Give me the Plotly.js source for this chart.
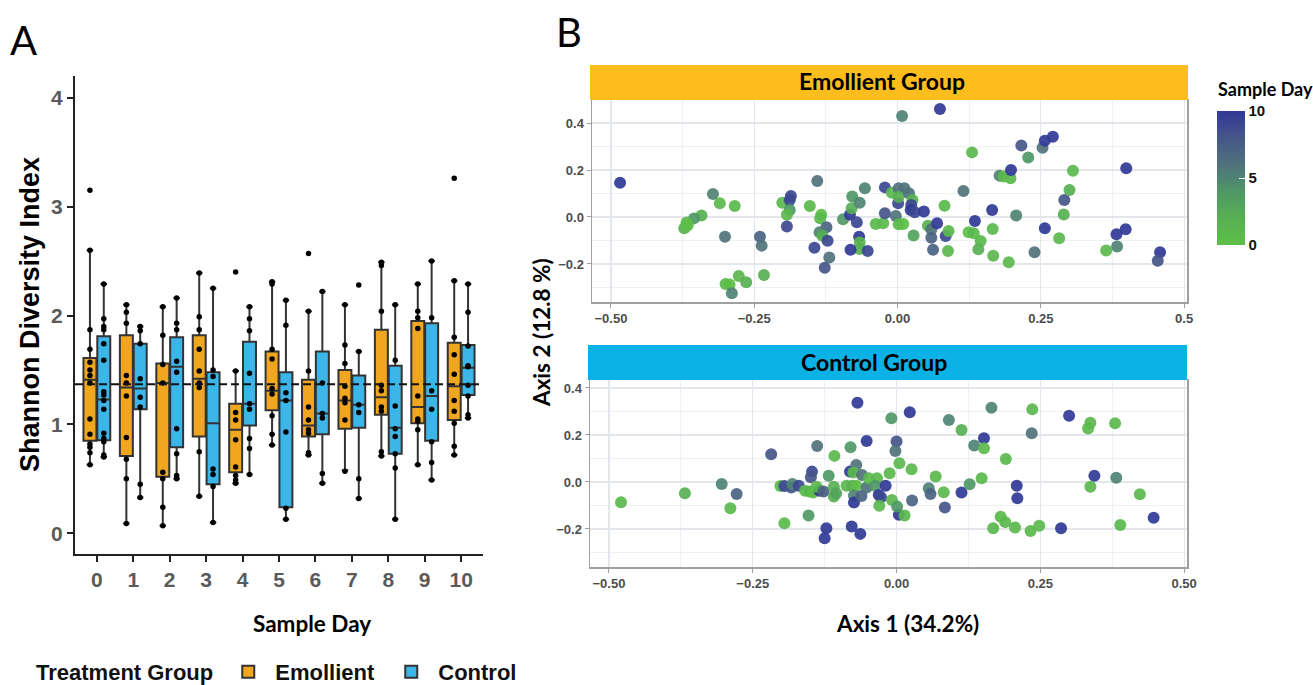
<!DOCTYPE html>
<html><head><meta charset="utf-8">
<script src="https://cdn.plot.ly/plotly-3.0.1.min.js"></script>
<style>html,body{margin:0;padding:0;background:#fff}</style>
</head><body>
<div id="chart" style="width:1313px;height:685px"></div>
<script>
// ---------- Panel A data ----------
const days = [0,1,2,3,4,5,6,7,8,9,10];
const overallMedian = 1.37;
// Emollient box statistics
const q1E  = [0.85,0.71,0.52,0.89,0.56,1.13,0.89,0.96,1.09,1.01,1.04];
const medE = [1.41,1.34,1.38,1.42,0.95,1.31,0.99,1.22,1.25,1.16,1.35];
const q3E  = [1.61,1.82,1.56,1.82,1.19,1.67,1.41,1.50,1.87,1.95,1.75];
const loE  = [0.63,0.09,0.07,0.34,0.46,0.81,0.72,0.58,0.71,0.63,0.72];
const hiE  = [2.60,2.10,2.08,2.39,1.49,2.31,2.04,2.10,2.49,2.29,2.32];
// Control box statistics
const q1C  = [0.855,1.14,0.79,0.45,0.99,0.24,0.91,0.97,0.73,0.85,1.27];
const medC = [1.23,1.33,1.53,1.01,1.19,1.22,1.10,1.18,0.97,1.26,1.52];
const q3C  = [1.81,1.74,1.80,1.48,1.76,1.48,1.67,1.45,1.54,1.93,1.73];
const loC  = [0.70,0.33,0.50,0.10,0.54,0.13,0.46,0.32,0.13,0.49,1.06];
const hiC  = [2.29,1.90,2.16,2.25,2.08,2.14,2.22,1.67,2.10,2.50,2.29];
// individual samples per day
const ptsE = [
  [3.15,2.60,1.87,1.69,1.57,1.50,1.45,1.38,1.05,0.91,0.82,0.79,0.74,0.63],
  [2.10,2.03,1.93,1.45,1.38,1.26,0.88,0.68,0.50,0.09],
  [2.08,1.82,1.55,1.38,0.56,0.50,0.24,0.07],
  [2.39,1.99,1.87,1.69,1.49,1.38,1.34,0.75,0.34],
  [2.40,1.49,1.11,1.04,0.86,0.61,0.53,0.49,0.46],
  [2.31,2.29,1.69,1.60,1.33,1.28,1.08,0.91,0.81],
  [2.57,2.04,1.49,1.16,1.04,0.95,0.92,0.74,0.72],
  [2.10,1.73,1.56,1.35,1.24,1.20,1.04,0.57],
  [2.49,2.46,2.04,1.36,1.31,1.16,1.12,0.75,0.71],
  [2.29,2.04,1.98,1.88,1.26,1.05,1.03,0.95,0.63],
  [3.26,2.32,1.80,1.64,1.46,1.22,1.12,1.01,0.80,0.72]
];
const ptsC = [
  [2.29,1.97,1.90,1.87,1.74,1.59,1.30,1.27,1.22,1.14,0.92,0.87,0.84,0.72,0.70],
  [1.90,1.86,1.74,1.42,1.25,1.16,0.45,0.33],
  [2.16,1.93,1.87,1.58,1.48,0.96,0.73,0.53,0.50],
  [2.25,1.50,1.44,0.59,0.54,0.43,0.10],
  [2.08,1.97,1.86,1.47,1.19,1.14,0.87,0.78,0.54],
  [2.14,1.91,1.29,1.22,0.93,0.23,0.13],
  [2.22,1.38,1.10,1.06,0.55,0.46],
  [2.28,1.67,1.18,1.11,0.50,0.32],
  [2.10,1.59,1.17,0.96,0.89,0.73,0.60,0.13],
  [2.50,1.98,1.31,1.14,0.84,0.65,0.49],
  [2.29,2.03,1.72,1.54,1.53,1.36,1.26,1.09,1.06]
];

// ---------- Panel B data (PCoA) ----------
const emX = [-0.484,-0.322,-0.310,-0.284,-0.342,-0.355,-0.368,-0.372,-0.366,-0.301,-0.300,-0.293,-0.289,-0.277,-0.264,-0.233,-0.240,-0.237,-0.201,-0.186,-0.188,-0.188,-0.193,-0.193,-0.153,-0.133,-0.135,-0.140,-0.124,-0.136,-0.131,-0.122,-0.145,-0.119,-0.127,-0.095,-0.083,-0.079,-0.080,-0.066,-0.057,-0.071,-0.067,-0.066,-0.066,-0.082,-0.052,-0.038,-0.025,-0.022,-0.022,-0.010,-0.003,0.002,0.001,0.002,0.008,0.074,0.012,0.002,0.020,0.026,0.024,0.023,0.030,0.046,0.010,0.028,0.053,0.059,0.069,0.059,0.062,0.084,0.089,0.088,0.082,0.115,0.130,0.124,0.133,0.145,0.141,0.135,0.165,0.166,0.167,0.178,0.185,0.197,0.198,0.194,0.207,0.216,0.228,0.239,0.253,0.257,0.271,0.257,0.282,0.290,0.291,0.300,0.306,0.364,0.382,0.383,0.398,0.399,0.458,0.454];
const emY = [0.146,0.098,0.058,0.047,0.006,-0.006,-0.024,-0.048,-0.035,-0.084,-0.285,-0.287,-0.325,-0.251,-0.278,-0.247,-0.084,-0.122,0.061,0.089,0.072,0.030,0.009,-0.041,0.047,0.009,-0.006,0.153,-0.044,-0.065,-0.080,-0.101,-0.131,-0.173,-0.216,-0.010,0.009,0.087,0.037,0.061,0.122,-0.023,-0.084,-0.109,-0.136,-0.140,-0.145,-0.030,-0.027,0.016,0.126,0.103,0.004,0.122,0.058,-0.031,0.430,0.460,0.122,0.085,0.101,0.072,0.051,0.030,0.020,0.023,-0.030,-0.079,-0.037,-0.052,-0.027,-0.088,-0.140,-0.081,-0.060,-0.145,0.048,0.111,0.275,-0.065,-0.069,-0.102,-0.137,-0.017,0.030,-0.051,-0.165,0.176,0.172,0.165,0.200,-0.193,0.006,0.304,0.253,-0.150,0.295,0.325,0.342,-0.048,-0.091,0.011,0.072,0.115,0.197,-0.143,-0.074,-0.126,-0.052,0.207,-0.150,-0.186];
const emDay = [10,5,1,1,2,4,1,2,0,6,1,0,5,1,2,2,7,6,1,9,9,4,1,9,1,0,1,6,7,5,2,9,9,6,8,4,10,4,2,5,5,9,10,1,2,10,9,1,1,8,9,1,6,6,9,1,5,10,6,2,6,2,9,10,9,10,0,3,2,6,10,7,7,9,1,1,1,6,1,0,1,1,2,10,10,1,1,5,1,1,10,1,5,8,4,6,6,10,10,10,1,2,8,2,1,1,10,5,10,10,10,8];

const ctX = [-0.479,-0.368,-0.304,-0.278,-0.289,-0.218,-0.195,-0.202,-0.195,-0.183,-0.181,-0.170,-0.159,-0.151,-0.145,-0.153,-0.147,-0.149,-0.138,-0.134,-0.139,-0.127,-0.118,-0.108,-0.109,-0.109,-0.105,-0.122,-0.125,-0.080,-0.068,-0.052,-0.081,-0.070,-0.075,-0.060,-0.087,-0.077,-0.070,-0.074,-0.074,-0.061,-0.052,-0.048,-0.034,-0.037,-0.019,-0.031,-0.027,-0.030,-0.078,-0.063,-0.009,-0.012,-0.008,0.000,-0.002,0.005,0.004,0.001,0.023,0.026,0.014,0.027,0.056,0.059,0.068,0.084,0.082,0.091,0.113,0.113,0.127,0.135,0.148,0.152,0.152,0.165,0.168,0.181,0.189,0.190,0.206,0.209,0.210,0.235,0.236,0.233,0.248,0.286,0.300,0.333,0.337,0.380,0.344,0.337,0.382,0.423,0.389,0.447];
const ctY = [-0.086,-0.048,-0.009,-0.051,-0.112,0.118,-0.176,-0.017,-0.017,-0.024,-0.009,-0.016,-0.037,-0.041,-0.045,-0.143,0.044,0.020,0.153,-0.037,-0.020,-0.041,0.026,0.111,-0.020,-0.062,-0.048,-0.197,-0.240,0.148,0.337,0.174,0.044,0.072,0.040,0.030,-0.016,-0.016,-0.016,-0.058,-0.087,-0.060,-0.024,0.016,0.016,-0.016,-0.016,-0.055,-0.065,-0.101,-0.190,-0.221,0.271,0.037,-0.077,0.172,0.132,0.080,-0.140,-0.105,0.297,0.054,-0.143,-0.079,-0.027,-0.051,0.023,-0.109,-0.044,0.264,0.221,-0.045,-0.010,0.155,0.016,0.186,0.143,0.316,-0.197,-0.148,-0.171,0.098,-0.194,-0.016,-0.069,0.207,0.309,-0.209,-0.186,-0.197,0.282,0.228,0.252,0.250,0.026,-0.020,0.018,-0.052,-0.183,-0.152];
const ctDay = [1,2,5,7,1,8,1,1,9,8,5,9,1,2,0,4,9,8,6,10,1,7,4,1,2,2,3,10,10,4,10,10,10,6,1,6,1,2,0,5,10,7,6,1,1,4,10,10,9,1,10,10,4,1,1,8,6,1,10,4,10,1,1,7,5,7,1,8,1,5,2,10,4,5,1,10,1,5,1,1,1,1,1,10,10,6,1,1,1,10,10,1,1,1,10,1,5,1,1,10];

const xTicksB = [-0.50,-0.25,0.00,0.25,0.50];
const xTextTop = ['\u22120.50','\u22120.25','0.00','0.25','0.5'];
const xTextBottom = ['\u22120.50','\u22120.25','0.00','0.25','0.50'];
const yTicksB = [-0.2,0.0,0.2,0.4];
const cbTicks = [0,5,10];

// ---------- styling ----------
const W = 1313, H = 685;
const px = v => v / W, py = v => 1 - v / H;
const BOXGAP = 0.24, BOXGROUPGAP = 0.063;
const off = 0.25 * (1 - BOXGAP);
const ORANGE = '#f0a61e', BLUE = '#3cb6e8';
const ARIAL = 'Liberation Sans, Arial, sans-serif';
const CAL = 'Lato, Open Sans, sans-serif';

function flat(pts, sign) {
  const x = [], y = [];
  pts.forEach((arr, i) => arr.forEach(v => { x.push(days[i] + sign * off); y.push(v); }));
  return {x, y};
}
const fE = flat(ptsE, -1), fC = flat(ptsC, 1);

const boxLine = {color: '#333333', width: 2};
const traces = [
  {type:'box', orientation:'v', name:'Emollient', x: days, q1:q1E, median:medE, q3:q3E,
   lowerfence:loE, upperfence:hiE, fillcolor:ORANGE, line:boxLine, boxpoints:false,
   xaxis:'x', yaxis:'y', hoverinfo:'skip'},
  {type:'box', orientation:'v', name:'Control', x: days, q1:q1C, median:medC, q3:q3C,
   lowerfence:loC, upperfence:hiC, fillcolor:BLUE, line:boxLine, boxpoints:false,
   xaxis:'x', yaxis:'y', hoverinfo:'skip'},
  {type:'scatter', mode:'markers', x:fE.x, y:fE.y, xaxis:'x', yaxis:'y', showlegend:false,
   marker:{color:'#000', size:5.5}, hoverinfo:'y'},
  {type:'scatter', mode:'markers', x:fC.x, y:fC.y, xaxis:'x', yaxis:'y', showlegend:false,
   marker:{color:'#000', size:5.5}, hoverinfo:'y'},
  {type:'scatter', mode:'markers', x:emX, y:emY, xaxis:'x2', yaxis:'y2', showlegend:false,
   marker:{color:emDay, coloraxis:'coloraxis', size:12, opacity:0.92}},
  {type:'scatter', mode:'markers', x:ctX, y:ctY, xaxis:'x3', yaxis:'y3', showlegend:false,
   marker:{color:ctDay, coloraxis:'coloraxis', size:12, opacity:0.92}}
];

const tickA = {family: ARIAL, size: 21, color: '#5a5a5a', weight: 700};
const tickB = {family: ARIAL, size: 13, color: '#4d4d4d', weight: 700};
function facetX(domain, anchor, ticktext) {
  return {domain, anchor, range:[-0.533, 0.505], tickvals:xTicksB, ticktext,
    showgrid:true, gridcolor:'#e3e7ec', gridwidth:1.2,
    minor:{dtick:0.125, tick0:0, showgrid:true, gridcolor:'#eef1f4', gridwidth:1, ticks:''},
    showline:true, mirror:true, linecolor:'#a0a0a0', linewidth:1.5,
    ticks:'outside', ticklen:4, tickcolor:'#a0a0a0', tickfont:tickB, zeroline:false};
}
function facetY(domain, anchor, range) {
  return {domain, anchor, range, tickvals:yTicksB, tickformat:'.1f',
    showgrid:true, gridcolor:'#e3e7ec', gridwidth:1.2,
    minor:{dtick:0.1, tick0:0, showgrid:true, gridcolor:'#eef1f4', gridwidth:1, ticks:''},
    showline:true, mirror:true, linecolor:'#a0a0a0', linewidth:1.5,
    ticks:'outside', ticklen:4, tickcolor:'#a0a0a0', tickfont:tickB, zeroline:false};
}

const ann = (x, y, text, font, extra) => Object.assign({xref:'paper', yref:'paper', x:px(x), y:py(y),
  text, showarrow:false, font, xanchor:'center', yanchor:'middle'}, extra || {});

const layout = {
  width: W, height: H, margin:{l:0, r:0, t:0, b:0, autoexpand:false},
  paper_bgcolor:'#ffffff', plot_bgcolor:'#ffffff',
  boxmode:'group', boxgap:BOXGAP, boxgroupgap:BOXGROUPGAP,
  xaxis:{domain:[px(75), px(483)], anchor:'y', range:[-0.6, 10.6], tickvals:days,
    showgrid:false, zeroline:false, showline:true, linecolor:'#222', linewidth:2,
    ticks:'outside', ticklen:6, tickwidth:2, tickcolor:'#222', tickfont:tickA},
  yaxis:{domain:[1 - 554/H, 1 - 76/H], anchor:'x', range:[-0.19, 4.2], dtick:1,
    showgrid:false, zeroline:false, showline:true, linecolor:'#222', linewidth:2,
    ticks:'outside', ticklen:6, tickwidth:2, tickcolor:'#222', tickfont:tickA},
  xaxis2: facetX([px(592), px(1187)], 'y2', xTextTop),
  yaxis2: facetY([1 - 302/H, 1 - 100/H], 'x2', [-0.362, 0.498]),
  xaxis3: facetX([px(590), px(1187)], 'y3', xTextBottom),
  yaxis3: facetY([1 - 567/H, 1 - 380/H], 'x3', [-0.362, 0.434]),
  coloraxis:{cmin:0, cmax:10,
    colorscale:[[0,'#5cbf47'],[0.2,'#57b052'],[0.4,'#4f9866'],[0.5,'#4e8373'],[0.6,'#50727b'],[0.8,'#465689'],[1,'#303996']],
    colorbar:{x:px(1217), xanchor:'left', y:py(111), yanchor:'top', len:134, lenmode:'pixels',
      thickness:28, thicknessmode:'pixels', outlinewidth:0, xpad:0, ypad:0,
      tickvals:cbTicks, ticks:'inside', ticklen:6, tickcolor:'#ffffff', tickwidth:1,
      tickfont:{family:ARIAL, size:15, color:'#111', weight:700}}},
  showlegend:true,
  legend:{orientation:'h', x:px(34), y:py(672), xanchor:'left', yanchor:'middle',
    title:{text:'Treatment Group', side:'left', font:{family:ARIAL, size:22, color:'#111', weight:700}},
    font:{family:ARIAL, size:22, color:'#111', weight:700}, bgcolor:'rgba(0,0,0,0)',
    itemwidth:44, entrywidth:104, entrywidthmode:'pixels'},
  shapes:[
    {type:'line', xref:'x domain', yref:'y', x0:0, x1:1, y0:overallMedian, y1:overallMedian,
     line:{color:'#111', width:2, dash:'8px,4px'}, layer:'above'},
    {type:'rect', xref:'paper', yref:'paper', x0:px(590), x1:px(1188), y0:py(100), y1:py(65),
     fillcolor:'#fdbd1c', line:{width:0}},
    {type:'rect', xref:'paper', yref:'paper', x0:px(588), x1:px(1187), y0:py(380), y1:py(345),
     fillcolor:'#0cb1e6', line:{width:0}}
  ],
  annotations:[
    ann(23, 40, 'A', {family:CAL, size:40, color:'#000'}),
    ann(569, 32, 'B', {family:CAL, size:40, color:'#000'}),
    ann(30, 315, 'Shannon Diversity Index', {family:ARIAL, size:27, color:'#000', weight:700}, {textangle:-90}),
    ann(312, 623, 'Sample Day', {family:CAL, size:22.5, color:'#000', weight:700}),
    ann(882, 81, 'Emollient Group', {family:CAL, size:23, color:'#000', weight:700}),
    ann(874, 362, 'Control Group', {family:CAL, size:23, color:'#000', weight:700}),
    ann(907, 623, 'Axis 1 (34.2%)', {family:CAL, size:22.5, color:'#000', weight:700}),
    ann(541, 333, 'Axis 2 (12.8 %)', {family:CAL, size:22.5, color:'#000', weight:700}, {textangle:-90}),
    ann(1216, 89, 'Sample Day', {family:CAL, size:18, color:'#000', weight:700}, {xanchor:'left'})
  ]
};

Plotly.newPlot('chart', traces, layout, {displayModeBar:false, staticPlot:true});
</script>
</body></html>
